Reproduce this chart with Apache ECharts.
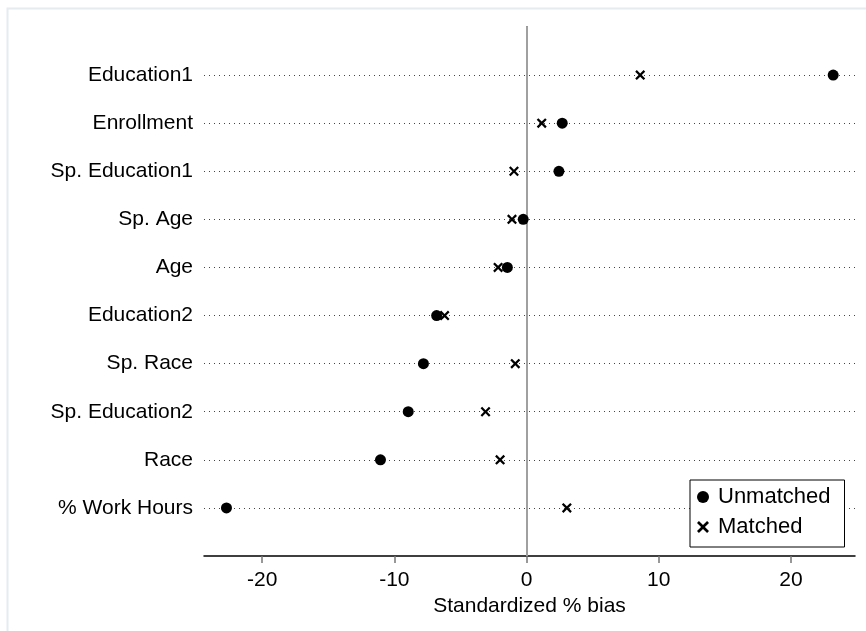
<!DOCTYPE html>
<html>
<head>
<meta charset="utf-8">
<script src="https://cdn.jsdelivr.net/npm/echarts@6/dist/echarts.min.js"></script>
<style>html,body{margin:0;padding:0;background:#fff;}#chart{width:866px;height:631px;}</style>
</head>
<body>
<div id="chart"></div>
<script>
const categories = ['Education1','Enrollment','Sp. Education1','Sp. Age','Age','Education2','Sp. Race','Sp. Education2','Race','% Work Hours'];
const unmatched = [23.2, 2.7, 2.45, -0.25, -1.45, -6.8, -7.8, -8.95, -11.05, -22.7];
const matched = [8.6, 1.15, -0.95, -1.1, -2.15, -6.2, -0.85, -3.1, -2.0, 3.05];
const xTicks = [-20, -10, 0, 10, 20];
const refLine = 0;

const FONT = 'Arial, "Liberation Sans", sans-serif';
const axisCats = [' '].concat(categories, ['  ']);
const xPath = 'path://M0,1.6L1.6,0L5,3.4L8.4,0L10,1.6L6.6,5L10,8.4L8.4,10L5,6.6L1.6,10L0,8.4L3.4,5Z';

const chart = echarts.init(document.getElementById('chart'), null, {renderer: 'canvas'});
chart.setOption({
  backgroundColor: '#fff',
  animation: false,
  textStyle: {fontFamily: FONT},
  graphic: [{
    type: 'rect', left: 5, top: 6, shape: {x: 0, y: 0, width: 880, height: 640},
    style: {fill: 'none', stroke: '#e6ebf0', lineWidth: 2}, silent: true
  }],
  grid: {left: 204, right: 11, top: 27, bottom: 75},
  xAxis: {
    type: 'value', min: -24.4, max: 24.85,
    name: 'Standardized % bias', nameLocation: 'middle', nameGap: 36,
    nameTextStyle: {fontSize: 21, color: '#000', fontFamily: FONT},
    axisLine: {show: true, lineStyle: {color: '#000', width: 1.5}},
    axisTick: {show: true, length: 7, customValues: xTicks, lineStyle: {color: '#777', width: 1.5}},
    axisLabel: {customValues: xTicks, fontSize: 21, color: '#000', margin: 14, fontFamily: FONT},
    splitLine: {show: false}
  },
  yAxis: {
    type: 'category', data: axisCats, inverse: true, boundaryGap: false,
    axisLine: {show: true, lineStyle: {color: '#000', width: 1.5}},
    axisTick: {show: false},
    axisLabel: {fontSize: 21, color: '#000', margin: 11, fontFamily: FONT,
      interval: function (i, v) { return i > 0 && i < axisCats.length - 1; }},
    splitLine: {show: true, interval: function (i, v) { return i > 0 && i < axisCats.length - 1; },
      lineStyle: {color: '#444', width: 1, type: [1, 4]}}
  },
  legend: {
    orient: 'vertical', left: 690, top: 480,
    backgroundColor: '#fff', borderColor: '#000', borderWidth: 1,
    padding: [6, 14, 9, 7], itemGap: 8, itemWidth: 20, itemHeight: 12,
    textStyle: {fontSize: 22, color: '#000', fontFamily: FONT},
    data: [
      {name: 'Unmatched', icon: 'circle'},
      {name: 'Matched', icon: xPath}
    ]
  },
  series: [
    {
      name: 'Unmatched', type: 'scatter', symbol: 'circle', symbolSize: 11,
      itemStyle: {color: '#000', opacity: 1},
      data: categories.map((c, i) => [unmatched[i], c]),
      z: 3,
      markLine: {
        silent: true, symbol: 'none', label: {show: false},
        lineStyle: {color: '#a0a0a0', width: 2, type: 'solid'},
        data: [{xAxis: refLine}], z: 1
      }
    },
    {
      name: 'Matched', type: 'scatter', symbol: xPath, symbolSize: 10,
      itemStyle: {color: '#000', opacity: 1},
      data: categories.map((c, i) => [matched[i], c]),
      z: 4
    }
  ]
});
</script>
</body>
</html>
